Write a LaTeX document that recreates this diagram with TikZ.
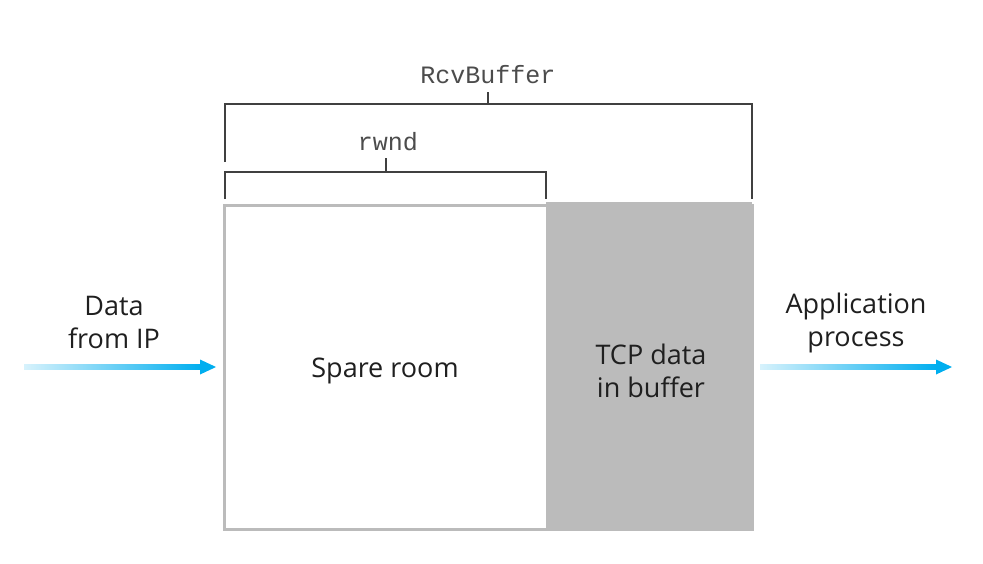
\documentclass[tikz,border=0pt]{standalone}
\usepackage{fontspec}
\setmainfont{Open Sans}
\setmonofont{Liberation Mono}
\definecolor{bufgray}{RGB}{187,187,187}
\definecolor{arrowcyan}{RGB}{0,174,239}
\definecolor{arrowpale}{RGB}{215,242,252}
\begin{document}
\begin{tikzpicture}[x=1pt,y=-1pt,
  lbl/.style={font=\fontsize{27}{33}\selectfont, text=black!88, align=center, inner sep=0pt},
  mono/.style={font=\fontsize{25}{30}\ttfamily, text=black!70, inner sep=0pt},
  brace/.style={draw=black!75, line width=1.2pt},
]
\useasboundingbox (0,0) rectangle (983,563);
% buffer
\node[draw=bufgray, line width=3pt, fill=white, minimum width=528pt, minimum height=324pt, anchor=north west, inner sep=0pt] (buf) at (222.5,203.5) {};
\node[fill=bufgray, minimum width=206pt, minimum height=327pt, anchor=north west, inner sep=0pt] (tcp) at (546,202) {};
\node[lbl] (spare) at (385,371) {Spare room};
\node[lbl] (tcptxt) at (651,370.5) {TCP data\\in buffer};
% brackets
\coordinate (rbL) at (225,104);
\coordinate (rbR) at (752,104);
\coordinate (rbM) at (488,104);
\node[mono] (rcv) at (488,75) {RcvBuffer};
\draw[brace] (225,162) -- (rbL) -- (rbR) -- (752,199);
\draw[brace] (rbM) -- (488,92);
\coordinate (rwL) at (225,172);
\coordinate (rwR) at (546,172);
\coordinate (rwM) at (386,172);
\node[mono] (rwnd) at (388,142) {rwnd};
\draw[brace] (225,199) -- (rwL) -- (rwR) -- (546,199);
\draw[brace] (rwM) -- (386,158);
% arrows
\coordinate (a1s) at (24,367);
\coordinate (a1e) at (216,367);
\shade[left color=arrowpale, right color=arrowcyan] (24,364.5) rectangle (201,369.5);
\fill[arrowcyan] (200,359.5) -- (a1e) -- (200,374.5) -- cycle;
\node[lbl] (data) at (114,322.5) {Data\\from IP};
\coordinate (a2s) at (760,367);
\coordinate (a2e) at (952,367);
\shade[left color=arrowpale, right color=arrowcyan] (760,364.5) rectangle (937,369.5);
\fill[arrowcyan] (936,359.5) -- (a2e) -- (936,374.5) -- cycle;
\node[lbl] (app) at (856,322.5) {Application\\process};
\end{tikzpicture}
\end{document}
